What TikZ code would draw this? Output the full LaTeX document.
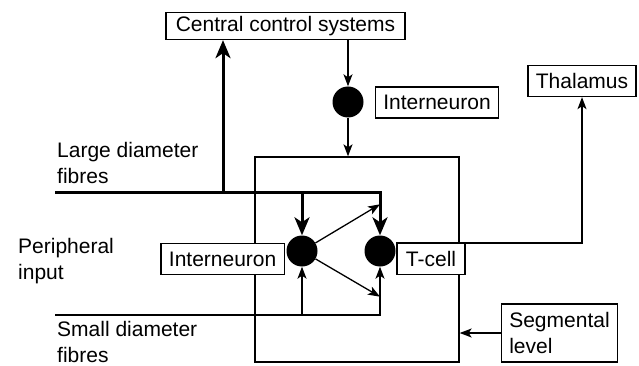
\documentclass[tikz,border=0pt]{standalone}
\usepackage{fontspec}
\setmainfont{Liberation Sans}
\usepackage{tikz}
\usetikzlibrary{positioning, arrows.meta}
\tikzstyle{line} = [draw, line width=1.3pt, -{Stealth[length=12pt, width=9pt, inset=3pt]}]
\tikzstyle{fatline} = [draw, line width=3pt, -{Stealth[length=18pt, width=15pt, inset=5pt]}]
\tikzstyle{block} = [rectangle, draw, fill=white, line width=1.3pt,
    inner xsep=8pt, minimum height=31pt]
\tikzstyle{cell} = [circle, fill=black, minimum size=31pt, inner sep=0pt]
\tikzstyle{caption} = [align=left, anchor=north west, inner sep=0pt]

\begin{document}
\begin{tikzpicture}[x=1pt, y=-1pt, node distance=78pt, font=\fontsize{21}{26}\selectfont]
      \useasboundingbox (0,0) rectangle (639,366);
      % Segmental box
      \node [draw, line width=1.3pt, minimum width=204pt, minimum height=205pt] (gate) at (357,259.5) {};
      % Place cells and boxes
      \node [block, minimum width=239pt, minimum height=27pt] (central) at (285.5,26) {Central control systems};
      \node [cell] (topcell) at (348,102) {};
      \node [block] (topinter) at (437,102.5) {Interneuron};
      \node [cell] (intercell) at (302,251) {};
      \node [cell, right of=intercell] (tcellc) {};
      \node [block, anchor=east] (leftinter) at (285,259) {Interneuron};
      \node [block, minimum width=68pt] (tcell) at (431,259) {T-cell};
      \node [block] (thalamus) at (582,81) {Thalamus};
      \node [block, align=left, inner xsep=7.5pt, minimum height=58pt] (segment) at (559.5,333) {Segmental\\level};
      % Place labels
      \node [caption] (largelabel) at (57,142) {Large diameter\\fibres};
      \node [caption] (periph) at (18,238) {Peripheral\\input};
      \node [caption] (smalllabel) at (57,321) {Small diameter\\fibres};
      \coordinate (largein) at (55,192);
      \coordinate (smallin) at (55,315);
      \coordinate (upfork) at (223,192);
      % Draw large fibre edges
      \path [fatline] (upfork) -- (upfork |- central.south);
      \path [fatline] (largein) -| (tcellc);
      \path [fatline] (intercell |- largein) -- (intercell);
      % Draw thin edges
      \path [line] (central.south -| topcell) -- (topcell);
      \path [line] (topcell) -- (topcell |- gate.north);
      \path [line] (intercell) -- ([yshift=31pt]tcellc.north);
      \path [line] (intercell) -- ([yshift=-30pt]tcellc.south);
      \path [line] (smallin) -| (tcellc);
      \path [line] (intercell |- smallin) -- (intercell);
      \path [line] (tcell.north west) -| (thalamus);
      \path [line] (segment) -- (segment -| gate.east);
  \end{tikzpicture}
\end{document}
